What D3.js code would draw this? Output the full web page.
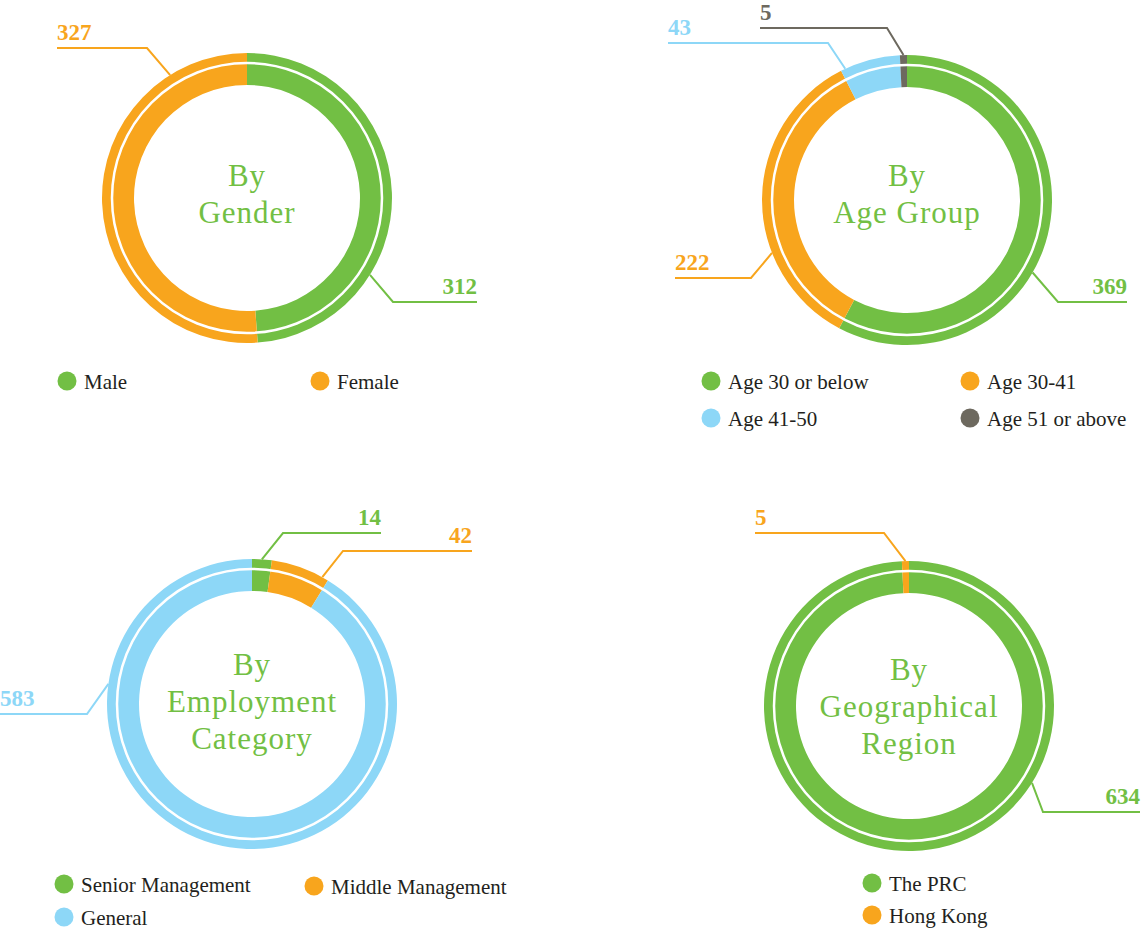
<!DOCTYPE html>
<html>
<head>
<meta charset="utf-8">
<script src="https://cdn.jsdelivr.net/npm/d3@7"></script>
<style>
  body { margin: 0; background: #fff; }
  svg { display: block; font-family: "Liberation Serif", "Times New Roman", serif; }
</style>
</head>
<body>
<svg id="chart" width="1145" height="933"></svg>
<script>
// Data
const genderCats = ["Male", "Female"];
const genderVals = [312, 327];

const ageCats = ["Age 30 or below", "Age 30-41", "Age 41-50", "Age 51 or above"];
const ageVals = [369, 222, 43, 5];

const employCats = ["Senior Management", "Middle Management", "General"];
const employVals = [14, 42, 583];

const regionCats = ["The PRC", "Hong Kong"];
const regionVals = [634, 5];

const palette = ["#72bf44", "#f8a51d", "#8dd7f7", "#6d695f"];

// Layout for each donut (centre, title, legend spots, callout leaders)
const charts = [
    {
        cats: genderCats, vals: genderVals, cx: 247, cy: 198,
        title: ["By", "Gender"], titleDy: 6,
        legend: [[67, 381], [320, 381]],
        // [anchor angle on ring, elbow dx, elbow dy, end dx]
        callouts: [[122, 146, 104, 230], [328, -100, -150, -190]]
    },
    {
        cats: ageCats, vals: ageVals, cx: 907, cy: 200,
        title: ["By", "Age Group"], titleDy: 4,
        legend: [[711, 381], [970, 381], [711, 418], [970, 418]],
        callouts: [[120, 151, 102, 220], [248.6, -156, 78, -232], [334.8, -79, -157, -239], [358.6, -20, -172, -147]]
    },
    {
        cats: employCats, vals: employVals, cx: 252, cy: 704,
        title: ["By", "Employment", "Category"], titleDy: 8,
        legend: [[64, 884], [314, 886], [64, 917]],
        callouts: [[3.9, 31, -171, 129], [29, 91, -153, 220], [278, -165, 10, -252]]
    },
    {
        cats: regionCats, vals: regionVals, cx: 909, cy: 706,
        title: ["By", "Geographical", "Region"], titleDy: 11,
        legend: [[872, 883], [872, 915]],
        callouts: [[122, 134, 106, 231], [358.6, -25, -173, -154]]
    }
];

const rOuter = 145, rInner = 113, rGap = 135;
const rad = (deg) => deg * Math.PI / 180;

const svg = d3.select("#chart");

charts.forEach((c) => {
    const g = svg.append("g").attr("transform", `translate(${c.cx},${c.cy})`);

    const pie = d3.pie().sort(null).value((d) => d);
    const arcs = pie(c.vals);
    const arc = d3.arc().innerRadius(rInner).outerRadius(rOuter);

    g.selectAll(".slice")
        .data(arcs)
        .enter()
        .append("path")
        .attr("class", "slice")
        .attr("d", arc)
        .attr("fill", (d, i) => palette[i]);

    // thin white ring that splits the band in two
    g.append("circle")
        .attr("r", rGap)
        .attr("fill", "none")
        .attr("stroke", "#fff")
        .attr("stroke-width", 2.5);

    // centre title
    const n = c.title.length;
    g.selectAll(".title")
        .data(c.title)
        .enter()
        .append("text")
        .attr("class", "title")
        .attr("text-anchor", "middle")
        .attr("y", (d, i) => c.titleDy + (i - (n - 1) / 2) * 37)
        .attr("fill", "#72bf44")
        .style("font-size", "31px")
        .style("letter-spacing", "1px")
        .text((d) => d);

    // callout leaders and value labels
    c.callouts.forEach(([ang, ex, ey, endX], i) => {
        const color = palette[i];
        const ax = rOuter * Math.sin(rad(ang));
        const ay = -rOuter * Math.cos(rad(ang));
        g.append("path")
            .attr("d", d3.line()([[ax, ay], [ex, ey], [endX, ey]]))
            .attr("fill", "none")
            .attr("stroke", color)
            .attr("stroke-width", 2);
        g.append("text")
            .attr("x", endX)
            .attr("y", ey - 8)
            .attr("text-anchor", endX > 0 ? "end" : "start")
            .attr("fill", color)
            .style("font-size", "23px")
            .style("font-weight", "bold")
            .text(c.vals[i]);
    });

    // legend
    const leg = svg.selectAll(null)
        .data(c.cats)
        .enter()
        .append("g")
        .attr("transform", (d, i) => `translate(${c.legend[i][0]},${c.legend[i][1]})`);
    leg.append("circle")
        .attr("r", 9.5)
        .attr("fill", (d, i) => palette[i]);
    leg.append("text")
        .attr("x", 17)
        .attr("y", 8)
        .attr("fill", "#231f20")
        .style("font-size", "21px")
        .text((d) => d);
});
</script>
</body>
</html>
